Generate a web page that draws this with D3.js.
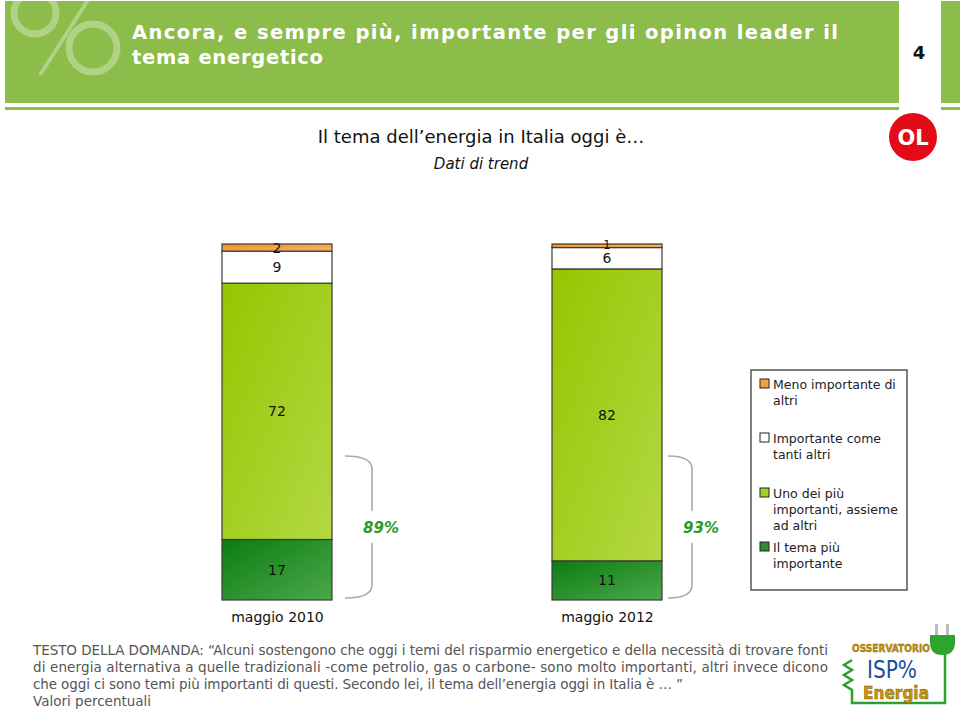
<!DOCTYPE html>
<html><head><meta charset="utf-8">
<script src="https://cdn.jsdelivr.net/npm/d3@7"></script>
<style>
html,body{margin:0;padding:0;background:#fff;}
svg{display:block;font-family:"DejaVu Sans",Verdana,sans-serif;}
</style></head>
<body>
<svg id="c" width="960" height="716"></svg>
<script>
// ---- data ----
const categories = ["maggio 2010", "maggio 2012"];
const seriesKeys = ["piu", "uno", "come", "meno"];
const temaPiuImportante = [17, 11];
const unoDeiPiuImportanti = [72, 82];
const importanteComeAltri = [9, 6];
const menoImportante = [2, 1];
const legendLabels = [
  ["Meno importante di", "altri"],
  ["Importante come", "tanti altri"],
  ["Uno dei più", "importanti, assieme", "ad altri"],
  ["Il tema più", "importante"]
];
const legendKeys = ["meno", "come", "uno", "piu"];
const titleLines = ["Ancora, e sempre più, importante per gli opinon leader il", "tema energetico"];
const pageNumber = "4";
const subtitle = "Il tema dell’energia in Italia oggi è…";
const subsubtitle = "Dati di trend";
const noteLines = [
  "TESTO DELLA DOMANDA: “Alcuni sostengono che oggi i temi del risparmio energetico e della necessità di trovare fonti",
  "di energia alternativa a quelle tradizionali -come petrolio, gas o carbone- sono  molto importanti, altri invece dicono",
  "che oggi ci sono temi più importanti di questi. Secondo lei, il tema dell’energia oggi in Italia è …  ”",
  "Valori percentuali"
];

const rows = categories.map((c, i) => ({
  cat: c, piu: temaPiuImportante[i], uno: unoDeiPiuImportanti[i],
  come: importanteComeAltri[i], meno: menoImportante[i]
}));

const svg = d3.select("#c");
const defs = svg.append("defs");
function grad(id, c1, c2) {
  const g = defs.append("linearGradient").attr("id", id)
    .attr("x1", 0).attr("y1", 0).attr("x2", 1).attr("y2", 1);
  g.append("stop").attr("offset", "0%").attr("stop-color", c1);
  g.append("stop").attr("offset", "100%").attr("stop-color", c2);
}
grad("gPiu", "#0c7c12", "#4ca84a");
grad("gUno", "#94c600", "#b4d844");
grad("gMeno", "#f09020", "#f8b868");
const fills = { piu: "url(#gPiu)", uno: "url(#gUno)", come: "#ffffff", meno: "url(#gMeno)" };
const swatch = { piu: "#2e8b2e", uno: "#a6d02a", come: "#ffffff", meno: "#f4a040" };

// ---- header ----
const hdrGreen = "#8cbc4a";
svg.append("rect").attr("x", 5).attr("y", 1).attr("width", 894).attr("height", 102).attr("fill", hdrGreen);
svg.append("rect").attr("x", 941).attr("y", 1).attr("width", 19).attr("height", 102).attr("fill", hdrGreen);
svg.append("rect").attr("x", 5).attr("y", 107).attr("width", 894).attr("height", 3).attr("fill", hdrGreen);
svg.append("rect").attr("x", 941).attr("y", 107).attr("width", 19).attr("height", 3).attr("fill", hdrGreen);
// percent watermark
const hc = svg.append("clipPath").attr("id", "hclip");
hc.append("rect").attr("x", 5).attr("y", 1).attr("width", 894).attr("height", 102);
const wm = svg.append("g").attr("clip-path", "url(#hclip)").attr("fill", "none").attr("stroke", "#b0d287").attr("stroke-width", 7);
wm.append("circle").attr("cx", 35).attr("cy", 13).attr("r", 21);
wm.append("circle").attr("cx", 93).attr("cy", 48).attr("r", 24);
wm.append("line").attr("x1", 88).attr("y1", 0).attr("x2", 40).attr("y2", 75).attr("stroke-width", 4);

svg.append("text").attr("x", 132).attr("y", 39).attr("fill", "#fff").attr("font-weight", "bold")
  .attr("font-size", 19.5).attr("textLength", 706).attr("lengthAdjust", "spacing").text(titleLines[0]);
svg.append("text").attr("x", 132).attr("y", 64).attr("fill", "#fff").attr("font-weight", "bold")
  .attr("font-size", 19.5).attr("textLength", 191).attr("lengthAdjust", "spacing").text(titleLines[1]);
svg.append("text").attr("x", 919).attr("y", 59).attr("text-anchor", "middle").attr("font-weight", "bold")
  .attr("font-size", 18).attr("fill", "#111").text(pageNumber);

// OL logo
svg.append("circle").attr("cx", 913).attr("cy", 137).attr("r", 24).attr("fill", "#e30b17");
svg.append("text").attr("x", 913).attr("y", 145).attr("text-anchor", "middle").attr("fill", "#fff")
  .attr("font-weight", "bold").attr("font-size", 21).text("OL");

// subtitles
svg.append("text").attr("x", 481).attr("y", 143).attr("text-anchor", "middle").attr("font-size", 18)
  .attr("fill", "#111").text(subtitle);
svg.append("text").attr("x", 481).attr("y", 169).attr("text-anchor", "middle").attr("font-size", 15)
  .attr("font-style", "italic").attr("fill", "#111").text(subsubtitle);

// ---- chart ----
const y = d3.scaleLinear().domain([0, 100]).range([600, 244]);
const x = d3.scalePoint().domain(categories).range([277, 607]);
const barW = 110;
const stack = d3.stack().keys(seriesKeys)(rows);

const segs = svg.append("g");
stack.forEach(layer => {
  layer.forEach(d => {
    segs.append("rect")
      .attr("x", x(d.data.cat) - barW / 2).attr("width", barW)
      .attr("y", y(d[1])).attr("height", y(d[0]) - y(d[1]))
      .attr("fill", fills[layer.key]).attr("stroke", "#3a3a3a").attr("stroke-width", 1.2);
  });
});
stack.forEach(layer => {
  layer.forEach(d => {
    const h = y(d[0]) - y(d[1]);
    const small = h < 5;
    segs.append("text")
      .attr("x", x(d.data.cat)).attr("y", (y(d[0]) + y(d[1])) / 2 + (small ? 3 : 5))
      .attr("text-anchor", "middle").attr("font-size", small ? 11.5 : 14).attr("fill", "#111")
      .text(d.data[layer.key]);
  });
});

// category axis labels
const xAxis = d3.axisBottom(x).tickSize(0).tickPadding(0);
const ax = svg.append("g").attr("transform", "translate(0,612)").call(xAxis);
ax.select(".domain").remove();
ax.selectAll("text").attr("font-size", 14).attr("fill", "#111").attr("font-family", "DejaVu Sans, Verdana, sans-serif");

// braces with totals
const braceDx = [13, 6], braceW = [27, 24];
function brace(x0, w, label) {
  const g = svg.append("g");
  const top = 456, bot = 598, xr = x0 + w;
  g.append("path").attr("fill", "none").attr("stroke", "#aaa").attr("stroke-width", 1.6)
    .attr("d", `M${x0},${top} Q${xr},${top} ${xr},${top + 13} L${xr},511 M${xr},543 L${xr},${bot - 13} Q${xr},${bot} ${x0},${bot}`);
  g.append("text").attr("x", xr + 9).attr("y", 533).attr("font-size", 15).attr("font-weight", "bold")
    .attr("font-style", "italic").attr("fill", "#2a9a2a").attr("text-anchor", "middle").text(label);
}
rows.forEach((r, i) => {
  brace(x(r.cat) + barW / 2 + braceDx[i], braceW[i], (r.piu + r.uno) + "%");
});

// legend
const lg = svg.append("g");
lg.append("rect").attr("x", 751).attr("y", 370).attr("width", 156).attr("height", 220)
  .attr("fill", "#fff").attr("stroke", "#555").attr("stroke-width", 1.5);
const legendY = [384, 438, 493, 547];
legendKeys.forEach((k, i) => {
  lg.append("rect").attr("x", 760).attr("y", legendY[i] - 5).attr("width", 9).attr("height", 9)
    .attr("fill", swatch[k]).attr("stroke", "#222").attr("stroke-width", 1);
  legendLabels[i].forEach((t, j) => {
    lg.append("text").attr("x", 773).attr("y", legendY[i] + 5 + j * 16).attr("font-size", 12.5)
      .attr("fill", "#222").text(t);
  });
});

// note
const ng = svg.append("g");
noteLines.forEach((t, i) => {
  const tx = ng.append("text").attr("x", 33).attr("y", 655 + i * 17).attr("font-size", 13.5)
    .attr("fill", "#555").text(t);
  if (i < 2) tx.attr("textLength", 795).attr("lengthAdjust", "spacing");
  if (i === 2) tx.attr("textLength", 650).attr("lengthAdjust", "spacing");
});

// ISPO energia logo
const lo = svg.append("g");
lo.append("path").attr("fill", "none").attr("stroke", "#2fa02f").attr("stroke-width", 2.5)
  .attr("d", "M852,660 L844,665 L852,670 L844,675 L852,680 L844,685 L852,690 L852,703 L945,703 L945,650");
lo.append("path").attr("fill", "#2da52d")
  .attr("d", "M930,635 L955,635 L955,642 Q955,655 942,655 Q930,655 930,642 Z");
lo.append("rect").attr("x", 935).attr("y", 624).attr("width", 3).attr("height", 11).attr("fill", "#bbb");
lo.append("rect").attr("x", 946).attr("y", 624).attr("width", 3).attr("height", 11).attr("fill", "#bbb");
lo.append("text").attr("x", 891).attr("y", 652).attr("text-anchor", "middle").attr("font-size", 11)
  .attr("font-weight", "bold").attr("fill", "#c8960a").attr("stroke", "#7a5a00").attr("stroke-width", 0.4)
  .attr("textLength", 78).attr("lengthAdjust", "spacingAndGlyphs").text("OSSERVATORIO");
lo.append("text").attr("x", 892).attr("y", 678).attr("text-anchor", "middle").attr("font-size", 25)
  .attr("fill", "#1a4fa0").attr("textLength", 50).attr("lengthAdjust", "spacingAndGlyphs").text("ISP%");
lo.append("text").attr("x", 896).attr("y", 699).attr("text-anchor", "middle").attr("font-size", 17)
  .attr("font-weight", "bold").attr("fill", "#c8960a").attr("stroke", "#7a5a00").attr("stroke-width", 0.5)
  .attr("textLength", 66).attr("lengthAdjust", "spacingAndGlyphs").text("Energia");
</script>
</body></html>
